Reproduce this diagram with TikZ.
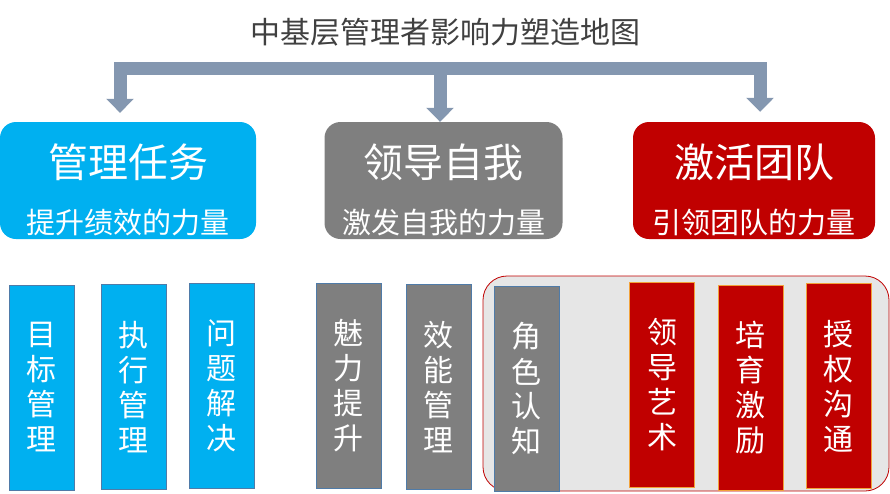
\documentclass[tikz,border=0pt]{standalone}
\usepackage{fontspec}
\setmainfont{Noto Sans CJK SC}
\usetikzlibrary{arrows.meta}
\definecolor{taskblue}{HTML}{00B0F0}
\definecolor{selfgray}{HTML}{7F7F7F}
\definecolor{teamred}{HTML}{C00000}
\definecolor{itemedge}{HTML}{4F7BA8}
\definecolor{rededge}{HTML}{F2A23A}
\definecolor{branchblue}{HTML}{8497B0}
\definecolor{zonegray}{HTML}{E6E6E6}
\definecolor{titlegray}{HTML}{404040}
\begin{document}
\begin{tikzpicture}[x=1pt,y=-1pt,
		headbox/.style={rounded corners=16pt, minimum height=117pt, inner sep=0pt},
		headtitle/.style={text=white, font=\fontsize{40}{48}\selectfont},
		headsub/.style={text=white, font=\fontsize{29}{35}\selectfont},
		itembox/.style={draw=itemedge, line width=0.8pt, minimum width=65pt, minimum height=205pt,
			inner sep=0pt, align=center, text=white, font=\fontsize{30}{35}\selectfont},
		zone/.style={draw=teamred, fill=zonegray, line width=0.8pt, rounded corners=24pt,
			minimum width=406pt, minimum height=215pt},
		branch/.style={draw=branchblue, line width=13pt, -{Triangle[width=27pt,length=14pt,fill=branchblue]}}]
		\useasboundingbox (0,0) rectangle (890,493);

		% Title
		\node[font=\fontsize{30}{36}\selectfont, text=titlegray] (map) at (445,32) {中基层管理者影响力塑造地图};

		% Top row: three areas
		\node[headbox, fill=taskblue, minimum width=256pt] (task) at (128,180.5) {};
		\node[headbox, fill=selfgray, minimum width=238pt] (self) at (443.5,180.5) {};
		\node[headbox, fill=teamred, minimum width=242pt] (team) at (754,180.5) {};
		\node[headtitle] (tasktitle) at ([yshift=18pt]task.center) {管理任务};
		\node[headsub] (tasksub) at ([yshift=-42pt]task.center) {提升绩效的力量};
		\node[headtitle] (selftitle) at ([yshift=18pt]self.center) {领导自我};
		\node[headsub] (selfsub) at ([yshift=-42pt]self.center) {激发自我的力量};
		\node[headtitle] (teamtitle) at ([yshift=18pt]team.center) {激活团队};
		\node[headsub] (teamsub) at ([yshift=-42pt]team.center) {引领团队的力量};

		% Branch arrows from the title bar
		\coordinate (hub) at (440,62);
		\draw[branch] (hub) -- ([xshift=-3.5pt]self.north);
		\draw[branch] ([yshift=-6.5pt]hub) -| ([xshift=-8pt,yshift=9pt]task.north);
		\draw[branch] ([yshift=-6.5pt]hub) -| ([xshift=6pt,yshift=10pt]team.north);

		% Bottom row: background of the team group
		\node[zone] (teamzone) at (686,383.5) {};

		% Bottom row: items
		\node[itembox, fill=taskblue] (goal) at (41.5,387.5) {目\\标\\管\\理};
		\node[itembox, fill=taskblue] (exec) at (133.5,387) {执\\行\\管\\理};
		\node[itembox, fill=taskblue] (solve) at (221.5,386) {问\\题\\解\\决};
		\node[itembox, fill=selfgray] (charm) at (348.5,385.5) {魅\\力\\提\\升};
		\node[itembox, fill=selfgray] (effect) at (438.5,387) {效\\能\\管\\理};
		\node[itembox, fill=selfgray] (role) at (526.5,389) {角\\色\\认\\知};
		\node[itembox, fill=teamred, draw=rededge] (lead) at (662,384.5) {领\\导\\艺\\术};
		\node[itembox, fill=teamred, draw=rededge] (coach) at (750.5,387.5) {培\\育\\激\\励};
		\node[itembox, fill=teamred, draw=rededge] (empower) at (838.5,386) {授\\权\\沟\\通};
	\end{tikzpicture}
\end{document}
